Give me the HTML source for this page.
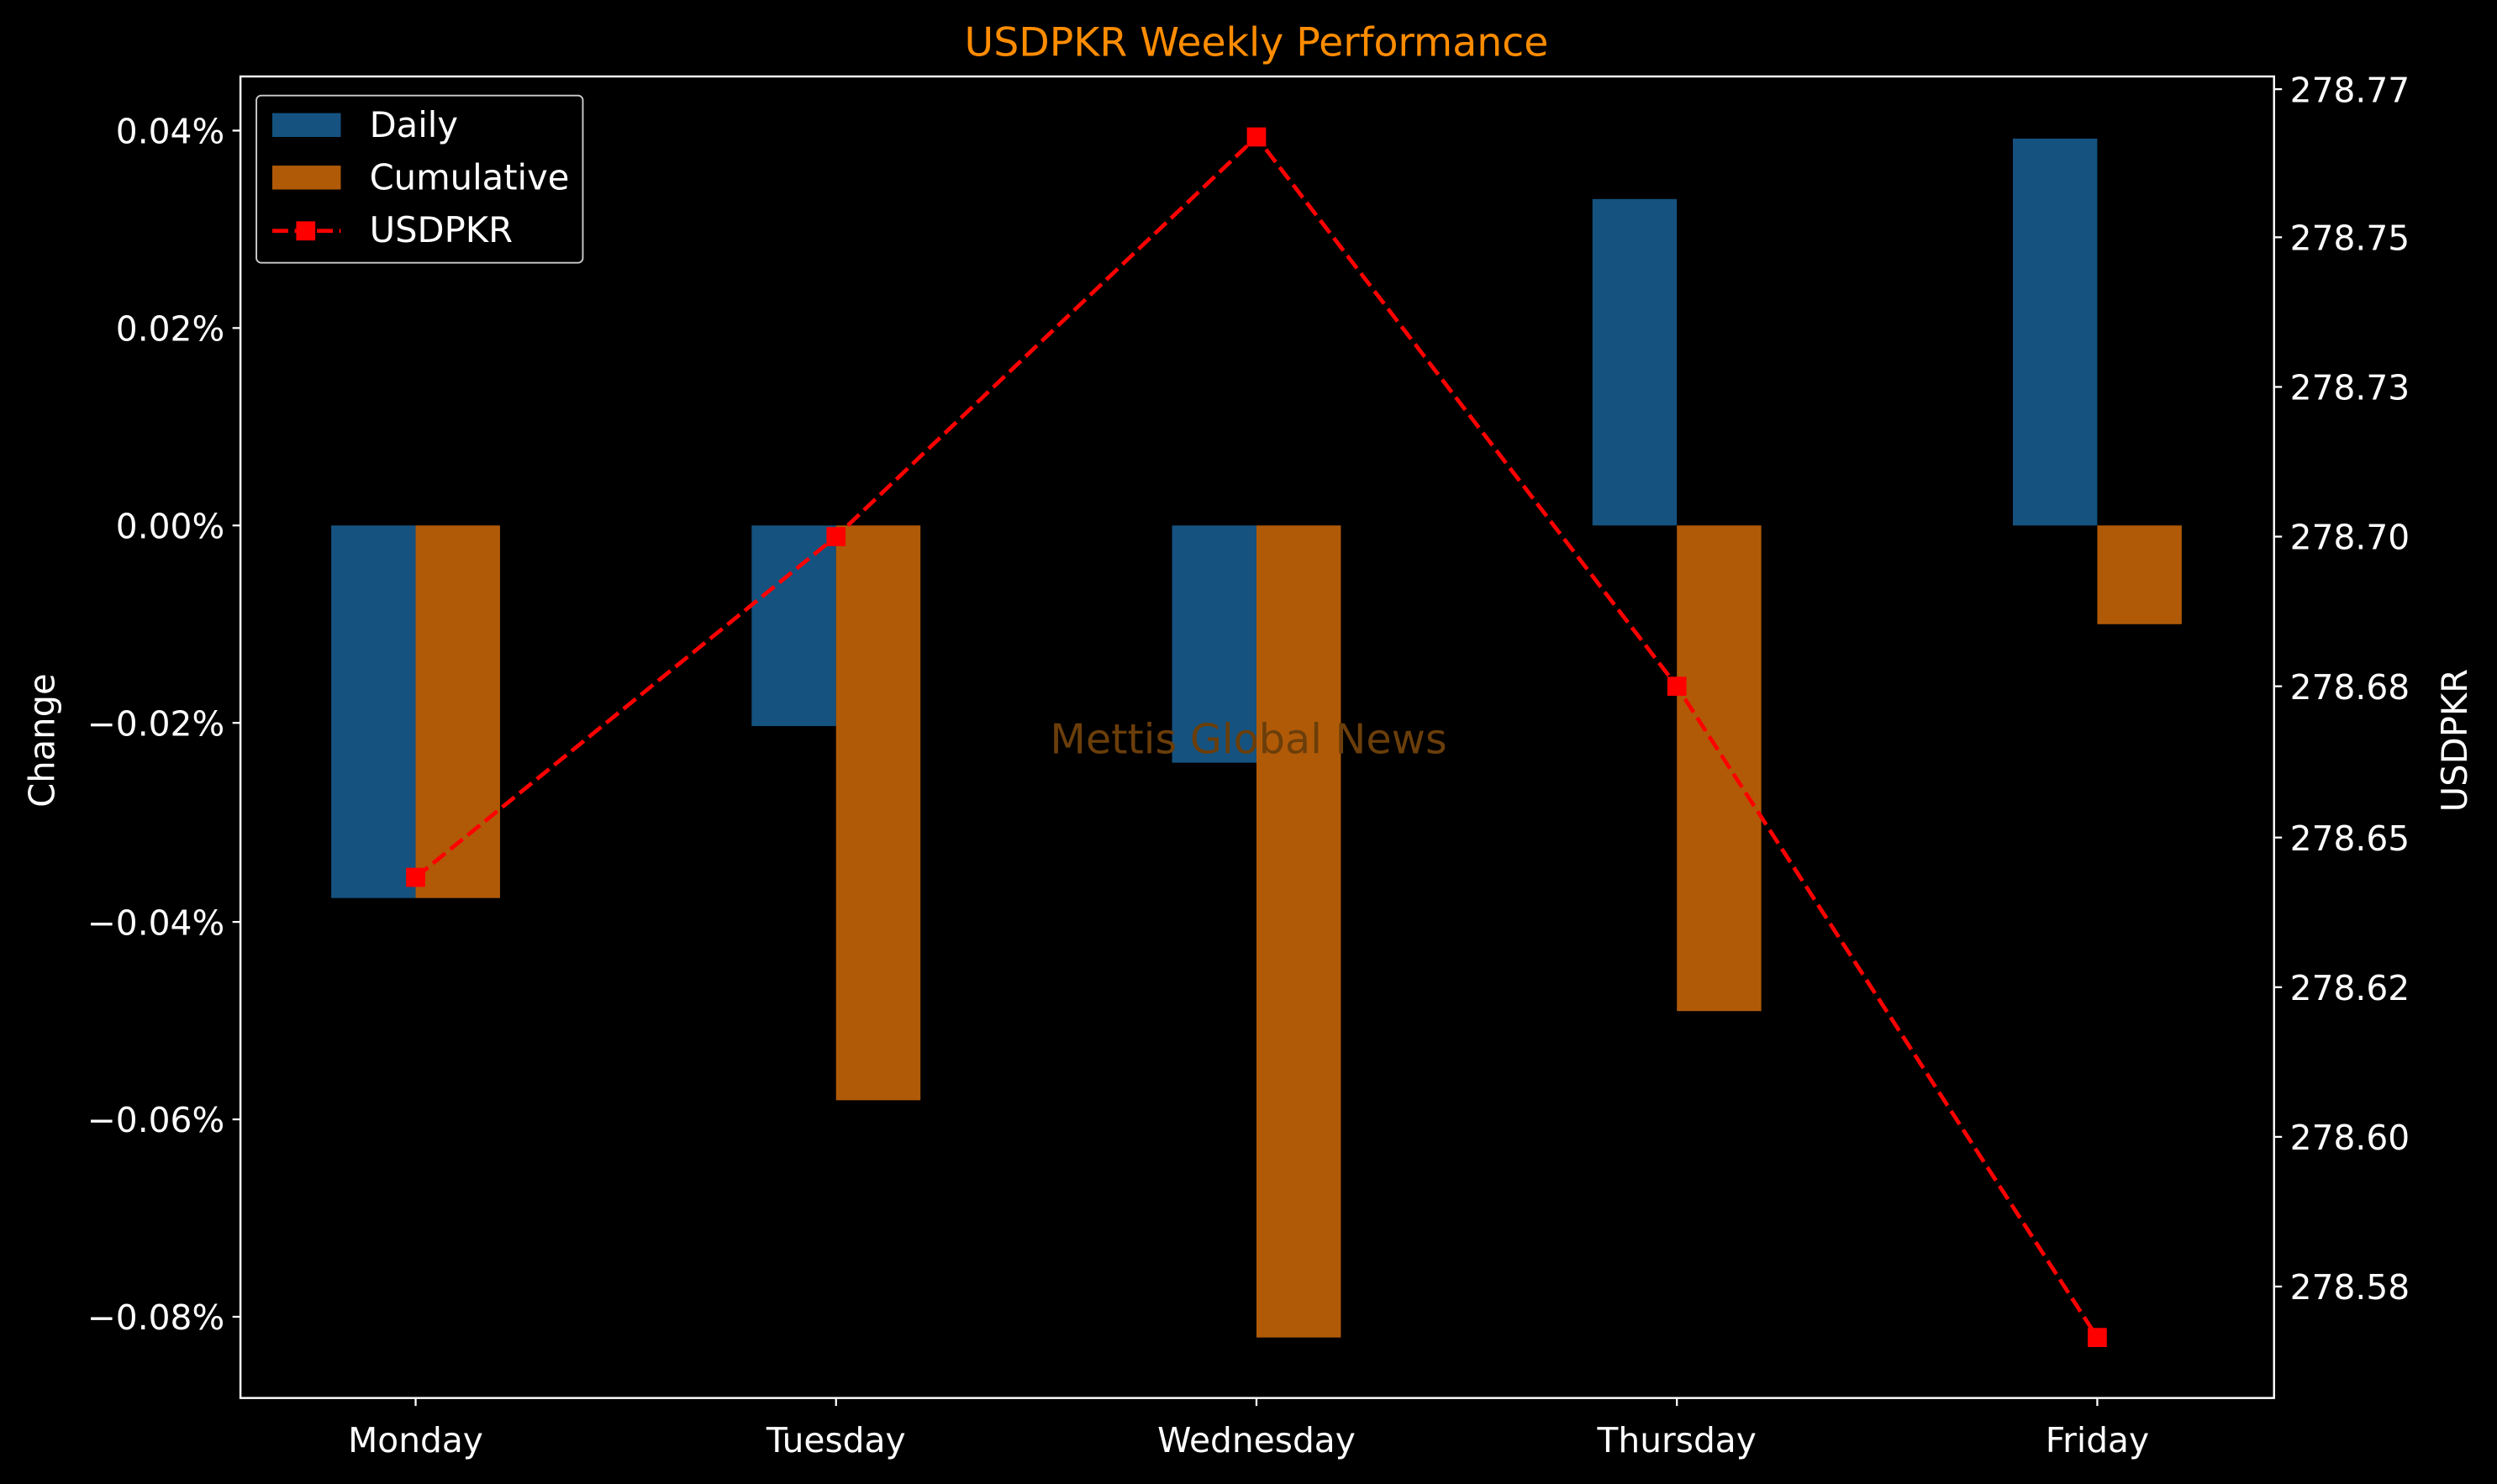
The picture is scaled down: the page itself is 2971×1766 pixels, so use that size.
<!DOCTYPE html>
<html><head><meta charset="utf-8"><style>
html,body{margin:0;padding:0;background:#000;}
svg{display:block;}
text{font-family:"DejaVu Sans","Liberation Sans",sans-serif;fill:#fff;}
</style></head><body>
<svg width="2971" height="1766" viewBox="0 0 1568 932" xmlns="http://www.w3.org/2000/svg">
<rect width="1568" height="932" fill="#000"/>
<text x="789" y="35" font-size="25" text-anchor="middle" style="fill:#ff8c00">USDPKR Weekly Performance</text>
<g fill="#15527f">
<rect x="208" y="330" width="53" height="234"/>
<rect x="472" y="330" width="53" height="126"/>
<rect x="736" y="330" width="53" height="149"/>
<rect x="1000" y="125" width="53" height="205"/>
<rect x="1264" y="87" width="53" height="243"/>
</g>
<g fill="#b05a08">
<rect x="261" y="330" width="53" height="234"/>
<rect x="525" y="330" width="53" height="361"/>
<rect x="789" y="330" width="53" height="510"/>
<rect x="1053" y="330" width="53" height="305"/>
<rect x="1317" y="330" width="53" height="62"/>
</g>
<text x="784" y="473" font-size="26" text-anchor="middle" style="fill:#6b3e0a">Mettis Global News</text>
<polyline points="261,551 525,337 789,86 1053,431 1317,840" fill="none" stroke="#ff0000" stroke-width="2.5" stroke-dasharray="10,4"/>
<g fill="#ff0000">
<rect x="255" y="545" width="12" height="12"/><rect x="519" y="331" width="12" height="12"/>
<rect x="783" y="80" width="12" height="12"/><rect x="1047" y="425" width="12" height="12"/>
<rect x="1311" y="834" width="12" height="12"/>
</g>
<rect x="151" y="48" width="1277" height="830" fill="none" stroke="#fff" stroke-width="1.3"/>
<g stroke="#fff" stroke-width="1.2">
<line x1="146" x2="151" y1="82" y2="82"/><line x1="146" x2="151" y1="206" y2="206"/>
<line x1="146" x2="151" y1="330" y2="330"/><line x1="146" x2="151" y1="454" y2="454"/>
<line x1="146" x2="151" y1="579" y2="579"/><line x1="146" x2="151" y1="703" y2="703"/>
<line x1="146" x2="151" y1="827" y2="827"/>
<line x1="1428" x2="1433" y1="56" y2="56"/><line x1="1428" x2="1433" y1="149" y2="149"/>
<line x1="1428" x2="1433" y1="243" y2="243"/><line x1="1428" x2="1433" y1="337" y2="337"/>
<line x1="1428" x2="1433" y1="431" y2="431"/><line x1="1428" x2="1433" y1="526" y2="526"/>
<line x1="1428" x2="1433" y1="620" y2="620"/><line x1="1428" x2="1433" y1="714" y2="714"/>
<line x1="1428" x2="1433" y1="808" y2="808"/>
<line x1="261" x2="261" y1="878" y2="883"/><line x1="525" x2="525" y1="878" y2="883"/>
<line x1="789" x2="789" y1="878" y2="883"/><line x1="1053" x2="1053" y1="878" y2="883"/>
<line x1="1317" x2="1317" y1="878" y2="883"/>
</g>
<g font-size="21.5" text-anchor="end">
<text x="141" y="90">0.04%</text><text x="141" y="214">0.02%</text>
<text x="141" y="338">0.00%</text><text x="141" y="462">−0.02%</text>
<text x="141" y="587">−0.04%</text><text x="141" y="711">−0.06%</text>
<text x="141" y="835">−0.08%</text>
</g>
<g font-size="21.5">
<text x="1438" y="64">278.77</text><text x="1438" y="157">278.75</text>
<text x="1438" y="251">278.73</text><text x="1438" y="345">278.70</text>
<text x="1438" y="439">278.68</text><text x="1438" y="534">278.65</text>
<text x="1438" y="628">278.62</text><text x="1438" y="722">278.60</text>
<text x="1438" y="816">278.58</text>
</g>
<g font-size="21.5" text-anchor="middle">
<text x="261" y="912">Monday</text><text x="525" y="912">Tuesday</text>
<text x="789" y="912">Wednesday</text><text x="1053" y="912">Thursday</text>
<text x="1317" y="912">Friday</text>
</g>
<text font-size="22" text-anchor="middle" transform="translate(34,465) rotate(-90)">Change</text>
<text font-size="22" text-anchor="middle" transform="translate(1549,465) rotate(-90)">USDPKR</text>
<rect x="161" y="60" width="205" height="105" rx="3" fill="#000" stroke="#ccc" stroke-width="1"/>
<rect x="171" y="71" width="43" height="15" fill="#15527f"/>
<rect x="171" y="104" width="43" height="15" fill="#b05a08"/>
<line x1="171" x2="214" y1="145" y2="145" stroke="#ff0000" stroke-width="2.5" stroke-dasharray="10,4"/>
<rect x="186" y="139" width="12" height="12" fill="#ff0000"/>
<g font-size="22"><text x="232" y="86">Daily</text><text x="232" y="119">Cumulative</text><text x="232" y="152">USDPKR</text></g>
</svg>
</body></html>
